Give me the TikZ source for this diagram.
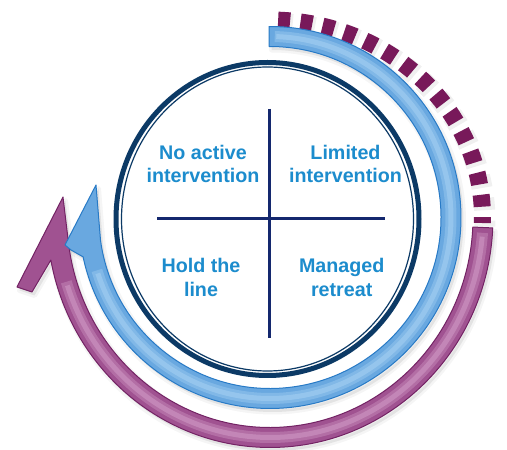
\documentclass[tikz,border=0pt]{standalone}
\usepackage{fontspec}
\setmainfont{Liberation Sans}
\usetikzlibrary{calc}
\definecolor{ringnavy}{RGB}{12,58,102}
\definecolor{crossnavy}{RGB}{20,40,110}
\definecolor{labelblue}{RGB}{28,140,205}
\definecolor{bluefill}{RGB}{105,168,224}
\definecolor{blueedge}{RGB}{40,122,198}
\definecolor{bluelight}{RGB}{175,215,245}
\definecolor{purplefill}{RGB}{160,82,145}
\definecolor{purpleedge}{RGB}{115,35,100}
\definecolor{purplelight}{RGB}{215,165,205}
\definecolor{dashpurple}{RGB}{120,25,90}
\newcommand\myPurpleShape{%
  ([shift={(B)}]-2.6:223pt and 230pt)
  arc[start angle=-2.6, end angle=-169.35, x radius=223pt, y radius=230pt]
  -- (32,158) -- (17,163) -- (63,253)
  -- ([shift={(B)}]-172.48:203pt and 210pt)
  arc[start angle=-172.48, end angle=-2.6, x radius=203pt, y radius=210pt]
  -- cycle}
\newcommand\myBlueShape{%
  ([shift={(B)}]90.3:191pt)
  arc[start angle=90.3, end angle=-168.1, radius=191pt]
  -- (71,200) -- (65,205) -- (96,265)
  -- ([shift={(B)}]-172.44:171pt)
  arc[start angle=-172.44, end angle=90.3, radius=171pt]
  -- cycle}
\begin{document}
\begin{tikzpicture}[x=1pt,y=1pt,
  quadlabel/.style={font=\fontsize{19.7pt}{23.5pt}\selectfont\bfseries, text=labelblue, align=center, inner sep=0pt},
  crossline/.style={draw=crossnavy, line width=3pt},
  bluearrow/.style={fill=bluefill, draw=blueedge, line width=1pt, line join=round},
  purplearrow/.style={fill=purplefill, draw=purpleedge, line width=1pt, line join=round},
  softshadow/.style={fill=black, fill opacity=0.07, draw=black, draw opacity=0.04, line width=5pt, line join=round},
  glosswide/.style={line width=11pt, opacity=0.35},
  glossnarrow/.style={line width=5pt, opacity=0.45}
]
\useasboundingbox (0,0) rectangle (507,450);
\fill[white] (0,0) rectangle (507,450);
\coordinate (B) at (270,232.5);
\coordinate (O) at (267.5,231);

% soft shadows
\begin{scope}[shift={(2.5,-3.5)}]
  \path[softshadow] \myPurpleShape;
  \path[softshadow] \myBlueShape;
  \draw[black, opacity=0.06, line width=21pt, dash pattern=on 12pt off 10.4pt]
    ([shift={(B)}]87.8:212.5pt and 197.5pt)
    arc[start angle=87.8, end angle=-1.6, x radius=212.5pt, y radius=197.5pt];
\end{scope}

% dashed outer arc
\draw[dashpurple, line width=17pt, dash pattern=on 12pt off 10.4pt]
  ([shift={(B)}]87.8:212.5pt and 197.5pt)
  arc[start angle=87.8, end angle=-1.6, x radius=212.5pt, y radius=197.5pt];

% purple arrow
\path[purplearrow] \myPurpleShape;
\draw[purplelight, glosswide]
  ([shift={(B)}]-4:213pt and 220pt)
  arc[start angle=-4, end angle=-163, x radius=213pt, y radius=220pt];
\draw[purplelight, glossnarrow]
  ([shift={(B)}]-5:213pt and 220pt)
  arc[start angle=-5, end angle=-162, x radius=213pt, y radius=220pt];

% blue arrow
\path[bluearrow] \myBlueShape;
\draw[bluelight, glosswide]
  ([shift={(B)}]88.5:181pt)
  arc[start angle=88.5, end angle=-163, radius=181pt];
\draw[bluelight, glossnarrow]
  ([shift={(B)}]88:181pt)
  arc[start angle=88, end angle=-162, radius=181pt];

% central ring
\draw[ringnavy, line width=5pt] (O) ellipse [x radius=151.5pt, y radius=156.5pt];
\draw[ringnavy, line width=1.2pt] (O) ellipse [x radius=146pt, y radius=152pt];

% cross
\coordinate (vtop) at (269,341);
\coordinate (vbot) at (269,112);
\coordinate (hleft) at (157,231);
\coordinate (hright) at (385,231);
\draw[crossline] (vtop) -- (vbot);
\draw[crossline] (hleft) -- (hright);

% labels
\node[quadlabel] (noactive) at (203,286) {No active\\intervention};
\node[quadlabel] (limited) at (345.5,286) {Limited\\intervention};
\node[quadlabel] (hold) at (201,172.4) {Hold the\\line};
\node[quadlabel] (managed) at (341.7,172.4) {Managed\\retreat};
\end{tikzpicture}
\end{document}
